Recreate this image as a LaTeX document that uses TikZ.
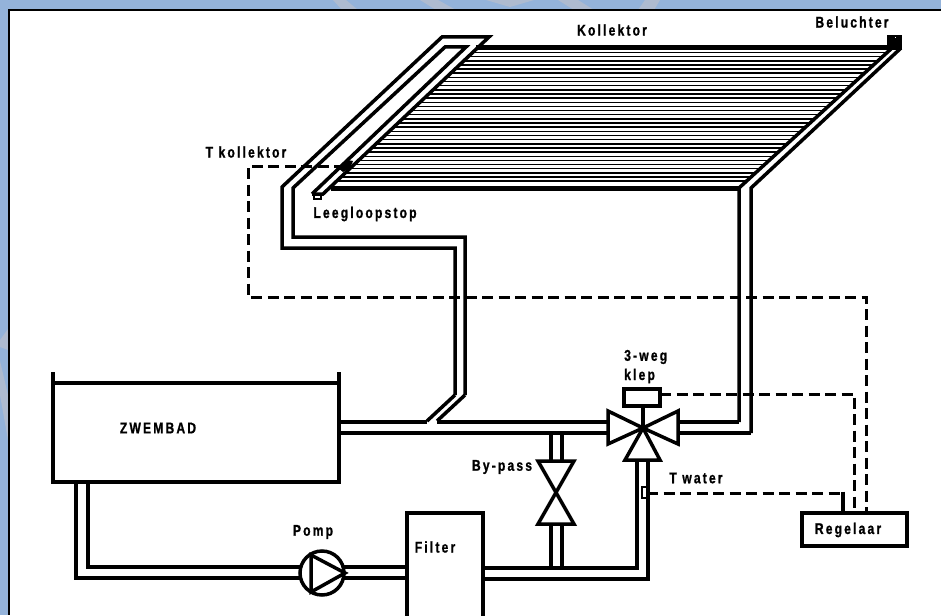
\documentclass[tikz,border=0pt]{standalone}
\usepackage{fontspec}
\setmainfont{Liberation Sans}[FakeStretch=0.78,LetterSpace=14,BoldFeatures={FakeBold=1}]
\definecolor{kader}{HTML}{94B3DA}
\definecolor{vlek}{HTML}{AEBBD0}
\tikzset{
	pijp/.style={line width=3.5pt, miter limit=8},
	dikpijp/.style={line width=5pt},
	streep/.style={line width=1.5pt},
	signaal/.style={line width=3pt, dash pattern=on 11pt off 5.5pt},
	onderdeel/.style={draw, line width=3.5pt, fill=white, inner sep=0pt},
	etiket/.style={font=\bfseries\fontsize{15.5}{17}\selectfont, inner sep=0pt},
}
\begin{document}
\begin{tikzpicture}[x=1pt, y=-1pt]
		\useasboundingbox (0,0) rectangle (941,615);
		% --- 1. Achtergrond en kader ---
		\fill[kader] (0,0) rectangle (941,615);
		\fill[vlek] (333,0) -- (346,0) -- (358,10) -- (342,10) -- cycle;
		\fill[vlek] (420,0) -- (438,0) -- (456,10) -- (436,10) -- cycle;
		\fill[vlek] (486,0) -- (534,0) -- (510,7) -- cycle;
		\fill[vlek] (558,0) -- (578,0) -- (594,10) -- (574,10) -- cycle;
		\fill[vlek] (645,0) -- (660,0) -- (654,10) -- (638,10) -- cycle;
		\fill[vlek] (0,340) -- (8,329) -- (8,350) -- (0,347) -- cycle;
		\fill[vlek] (0,361) -- (8,395) -- (8,440) -- (0,395) -- cycle;
		\fill[white] (9,10) rectangle (941,615);
		\draw[line width=2pt] (941,10) -- (9,10) -- (9,615);

		% --- 2. Coordinaten ---
		\coordinate (KlepM) at (643,428);
		\coordinate (Sensor) at (647,493);
		\coordinate (KlepUit) at (660,394);
		\coordinate (KolUit) at (345,166);

		% --- 3. Kollektor ---
		\foreach \i [evaluate=\i as \yy using {52.5+4.15*\i},
			evaluate=\i as \xl using {490-1.064*(52.5+4.15*\i-37)},
			evaluate=\i as \xr using {739+1.1*(188-52.5-4.15*\i)}] in {0,...,31}
			\draw[streep] (\xl,\yy) -- (\xr,\yy);
		\draw[dikpijp] (476,48) -- (888,48);
		\draw[dikpijp] (331,188) -- (741,188);

		% Toevoer links
		\draw[pijp] (455,395) -- (455,248) -- (282,248) -- (282,187) -- (442,37) -- (489,37) -- (323,194) -- (312,194);
		\draw[pijp] (465,395) -- (465,237) -- (293,237) -- (293,188) -- (445,47) -- (466,47) -- (312,194);
		\draw[pijp] (455,395) -- (427,421);
		\draw[pijp] (465,395) -- (437,421);
		\draw[line width=2pt] (314,195) rectangle (321,199);

		% Afvoer rechts
		\draw[pijp] (739,422) -- (739,188) -- (892,48);
		\draw[pijp] (751,433) -- (751,188) -- (901,48);
		\fill (887,35) rectangle (902,50);
		\fill[white] (894.5,37.5) rectangle (895.5,38.5);
		\fill (338,168) -- (347,160) -- (353,161) -- (350,168) -- (343,172) -- cycle;

		% --- 4. Zwembad en leidingen ---
		\draw[pijp] (53,372) -- (53,482) -- (339,482) -- (339,372);
		\draw[pijp] (53,383) -- (339,383);
		\draw[pijp] (339,422) -- (427,422);
		\draw[pijp] (437,422) -- (607,422);
		\draw[pijp] (339,433) -- (607,433);
		\draw[pijp] (678,422) -- (739,422);
		\draw[pijp] (678,433) -- (751,433);
		\draw[pijp] (88,482) -- (88,567) -- (300,567);
		\draw[pijp] (76,482) -- (76,578) -- (300,578);
		\draw[pijp] (340,567) -- (407,567);
		\draw[pijp] (340,578) -- (407,578);
		\draw[pijp] (483,568) -- (637,568) -- (637,460);
		\draw[pijp] (483,579) -- (648,579) -- (648,460);
		\draw[pijp] (551,433) -- (551,461);
		\draw[pijp] (562,433) -- (562,461);
		\draw[pijp] (551,524) -- (551,568);
		\draw[pijp] (562,524) -- (562,568);
		\draw[pijp] (407,620) -- (407,513) -- (483,513) -- (483,620);

		% --- 5. Pomp en kleppen ---
		\node[onderdeel, circle, minimum size=44pt] (pomp) at (322,573) {};
		\draw[pijp] (311,555) -- (345,573) -- (311,592) -- cycle;
		\draw[pijp, fill=white] (538,461) -- (574,461) -- (538,524) -- (574,524) -- cycle;
		\draw[pijp, fill=white] (608,411) -- (KlepM) -- (608,444) -- cycle;
		\draw[pijp, fill=white] (678,411) -- (KlepM) -- (678,444) -- cycle;
		\draw[pijp, fill=white] (625,460) -- (KlepM) -- (660,460) -- cycle;
		\node[onderdeel, minimum width=36pt, minimum height=17pt] (motor) at (642,397.5) {};
		\draw[pijp] (motor.south -| KlepM) -- (KlepM);
		\node[onderdeel, minimum width=5pt, minimum height=11pt, line width=2pt] (twater) at (644.5,492.5) {};

		% --- 6. Regelaar en signaallijnen ---
		\node[onderdeel, minimum width=105pt, minimum height=33pt] (regelaar) at (854.5,529.5) {};
		\draw[signaal] (KlepUit) -| (regelaar.north);
		\draw[signaal] (Sensor) -- (843,493);
		\draw[pijp] (843,491.5) -- (843,513);
		\draw[signaal] (KolUit) -- (248,166) -- (248,297) -- (866,297) -- (866,513);

		% --- 7. Teksten ---
		\node[etiket] (tkollektor) at (612,30) {Kollektor};
		\node[etiket] (tbeluchter) at (852,22) {Beluchter};
		\node[etiket] (ttkol) at (246,152) {T kollektor};
		\node[etiket] (tleeg) at (365,214) {Leegloopstop};
		\node[etiket, anchor=west] (tweg) at (624,357) {3-weg};
		\node[etiket, anchor=west] (tklep) at (624,376) {klep};
		\node[etiket] (tbad) at (158,428) {ZWEMBAD};
		\node[etiket] (tpomp) at (313,532) {Pomp};
		\node[etiket] (tfilter) at (435,547) {Filter};
		\node[etiket] (tbypass) at (502,467) {By-pass};
		\node[etiket] (ttwater) at (696,478) {T water};
		\node[etiket] (tregelaar) at (848,530) {Regelaar};
	\end{tikzpicture}
\end{document}
